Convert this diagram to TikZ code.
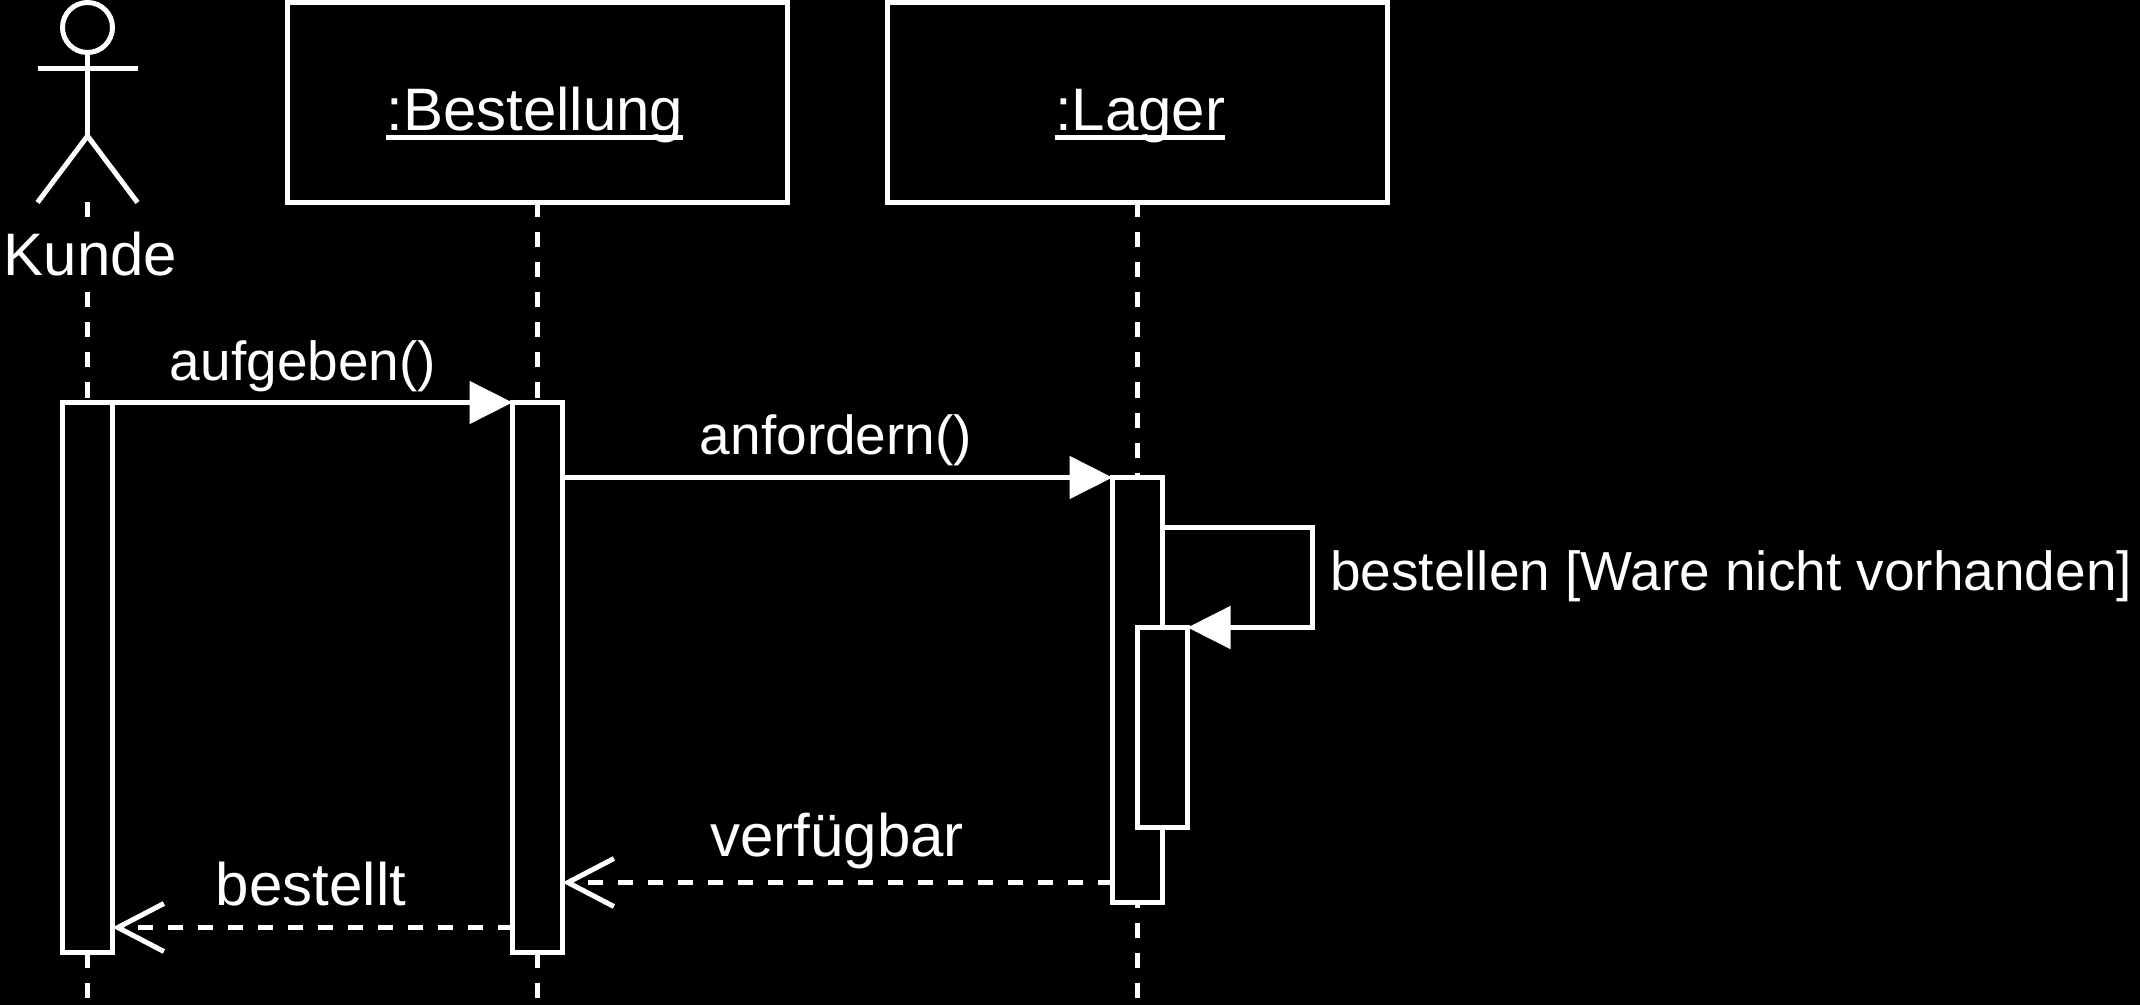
\documentclass[tikz,border=0pt]{standalone}
\usepackage{fontspec}
\setmainfont{Liberation Sans}
\newcommand{\ulined}[1]{\setbox0=\hbox{#1}\rlap{\rule[-4.5pt]{\wd0}{2.5pt}}\box0}
\usetikzlibrary{arrows.meta,shapes.geometric}

\begin{document}
\begin{tikzpicture}[x=0.5pt,y=-0.5pt,line width=2.5pt,draw=white,
    objbox/.style={draw=white,fill=black,minimum width=250pt,minimum height=100pt,inner sep=0pt,outer sep=0pt,
                   text=white,font=\fontsize{30}{36}\selectfont,text height=28.5pt,text depth=0pt},
    bar/.style={draw=white,fill=black,minimum width=25pt,inner sep=0pt,outer sep=0pt,anchor=north west},
    life/.style={white,dash pattern=on 7.5pt off 7.5pt},
    call/.style={white,-{Triangle[length=21.5pt,width=21pt]}},
    reply/.style={white,dash pattern=on 7.5pt off 7.5pt,-{Straight Barb[length=23pt,width=24pt]}},
    lbl/.style={text=white,inner sep=0pt,anchor=base,font=\fontsize{27.5}{33}\selectfont},
    lblbig/.style={lbl,font=\fontsize{30}{36}\selectfont}]
  \fill[black] (0,0) rectangle (2140,1005);
  \useasboundingbox (0,0) rectangle (2140,1005);

  \node[circle,draw=white,minimum size=25pt,inner sep=0pt,outer sep=0pt] (head) at (87.5,27.5) {};
  \coordinate (hip) at (87.5,136);
  \coordinate (armL) at (37.5,69);
  \coordinate (armR) at (137.5,69);
  \coordinate (legL) at (37.5,202.5);
  \coordinate (legR) at (137.5,202.5);
  \draw[white] (head.south) -- (hip);
  \draw[white] (armL) -- (armR);
  \draw[white] (legL) -- (hip) -- (legR);

  \node[objbox] (order) at (537.5,102.5) {\kern-2.7pt\ulined{:Bestellung}};
  \node[objbox] (stock) at (1137.5,102.5) {\ulined{:Lager}\kern-2.7pt};

  \coordinate (kundeTop) at (87.5,202.5);
  \coordinate (kundeEnd) at (87.5,1002.5);
  \coordinate (orderEnd) at (537.5,1002.5);
  \coordinate (stockEnd) at (1137.5,1002.5);
  \draw[life] (kundeTop) -- (kundeEnd);
  \draw[life] (order.south) -- (orderEnd);
  \draw[life] (stock.south) -- (stockEnd);

  \node[lblbig,fill=black,text height=25pt,text depth=5pt] (kunde) at (90.4,275.7) {Kunde};

  \node[bar,minimum height=275pt] (b1) at (62.5,402.5) {};
  \node[bar,minimum height=275pt] (b2) at (512.5,402.5) {};
  \node[bar,minimum height=212.5pt] (b3) at (1112.5,477.5) {};
  \node[bar,minimum height=100pt] (b4) at (1137.5,627.5) {};

  \draw[call] (b1.north east) -- (b2.north west);
  \draw[call] (b2.east |- b3.north west) -- (b3.north west);
  \coordinate (turn) at (1312.5,527.5);
  \draw[call] ([yshift=-25pt]b3.north east) -- (turn) |- (b4.north east);
  \draw[reply] ([yshift=10pt]b3.south west) -- ([yshift=10pt]b3.south west -| b2.east);
  \draw[reply] ([yshift=12.5pt]b2.south west) -- ([yshift=12.5pt]b1.south east);

  \node[lbl] (m1) at (303,380.7) {aufgeben()};
  \node[lbl] (m2) at (836,454.3) {anfordern()};
  \node[lbl,anchor=base west] (m3) at (1327.6,590.7) {bestellen [Ware nicht vorhanden]};
  \node[lblbig] (m4) at (837,856) {verfügbar};
  \node[lblbig] (m5) at (311,905) {bestellt};
\end{tikzpicture}
\end{document}
